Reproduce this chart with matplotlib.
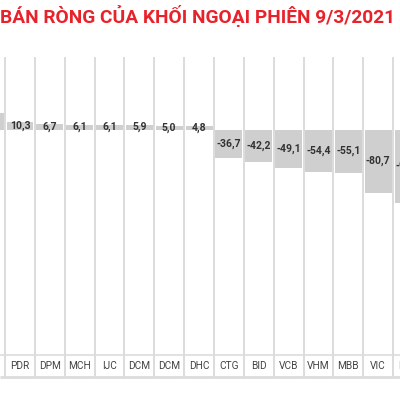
import matplotlib
matplotlib.use("Agg")
import matplotlib.pyplot as plt
import numpy as np

# net foreign buy/sell, session 9/3/2021 (bn VND)
tickers = ["KBC", "PDR", "DPM", "MCH", "IJC", "DCM", "DCM", "DHC",
           "CTG", "BID", "VCB", "VHM", "MBB", "VIC", "HPG"]
values = [21.5, 10.3, 6.7, 6.1, 6.1, 5.9, 5.0, 4.8,
          -36.7, -42.2, -49.1, -54.4, -55.1, -80.7, -94.0]
title = "BÁN RÒNG CỦA KHỐI NGOẠI PHIÊN 9/3/2021"

W, H = 400, 400
fig = plt.figure(figsize=(4, 4), dpi=100)
fig.patch.set_facecolor("white")

# axes from y=57 to y=355 px, full width
ax = fig.add_axes([0, 1 - 355 / H, 1, (355 - 57) / H])
x = np.arange(len(values))
ax.bar(x, values, width=0.9, color="#cfcfcf", zorder=2)

ax.set_xlim(0.332, 13.73)
ax.set_ylim(-289, 93)
ax.axis("off")

grid_c = "#dcdcdc"
row = 22 / (355 - 57)  # label row height in axes fraction
tr = ax.get_xaxis_transform()
ax.vlines(x + 0.5, -row, 1, transform=tr, colors=grid_c, lw=1.4, zorder=1, clip_on=False)
ax.hlines([0], 0, 1, transform=ax.transAxes, colors=grid_c, lw=1.2, clip_on=False)
ax.hlines([-row], 0, 1, transform=ax.transAxes, colors=grid_c, lw=2, clip_on=False)

for xi, v in zip(x, values):
    ax.text(xi, v / 2, f"{v:.1f}".replace(".", ","), ha="center", va="center",
            fontsize=7.5, fontweight="bold", color="#333333",
            family=["Roboto", "DejaVu Sans"], zorder=3)

for xi, t in zip(x, tickers):
    ax.text(xi, -row / 2, t, transform=tr, ha="center", va="center",
            fontsize=7.3, color="#444444", family=["Roboto", "DejaVu Sans"])

fig.text(395 / W, 1 - 16 / H, title, ha="right", va="center",
         fontsize=13.8, fontweight="bold", color="#e8222b",
         family=["Liberation Sans Narrow", "Roboto", "DejaVu Sans"])

fig.savefig("out.png", dpi=100, facecolor="white")
